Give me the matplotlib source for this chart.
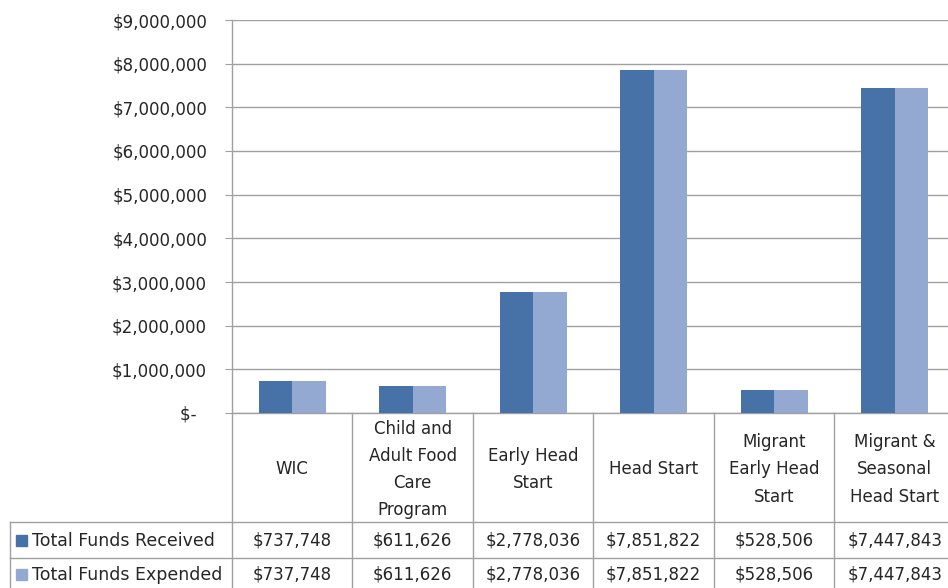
import matplotlib.pyplot as plt
import numpy as np
from matplotlib.ticker import FuncFormatter

plt.rcParams['font.family'] = ['DejaVu Sans']

categories = ["WIC", "Child and\nAdult Food\nCare\nProgram", "Early Head\nStart",
              "Head Start", "Migrant\nEarly Head\nStart", "Migrant &\nSeasonal\nHead Start"]
received = [737748, 611626, 2778036, 7851822, 528506, 7447843]
expended = [737748, 611626, 2778036, 7851822, 528506, 7447843]
series_names = ["Total Funds Received", "Total Funds Expended"]
colors = ["#4672a8", "#94a9d2"]

W, H = 948, 588
fig = plt.figure(figsize=(W / 100, H / 100), dpi=100)
fs = 12
tc = '#262626'

# plot area in pixel terms
left, top, bottom = 232, 20, 413
colw = 120.5
n = len(categories)
right = left + colw * n

ax = fig.add_axes([left / W, 1 - bottom / H, (right - left) / W, (bottom - top) / H])
x = np.arange(n)
bw = 0.28
ax.bar(x - bw / 2, received, bw, color=colors[0], zorder=3)
ax.bar(x + bw / 2, expended, bw, color=colors[1], zorder=3)
ax.set_xlim(-0.5, n - 0.5)
ax.set_ylim(0, 9000000)
ax.set_yticks(np.arange(0, 9000001, 1000000))
ax.yaxis.set_major_formatter(FuncFormatter(lambda v, p: "$-  " if v == 0 else f"${v:,.0f}"))
ax.grid(axis='y', color='#a0a0a0', linewidth=1, zorder=0)
ax.set_xticks([])
for s in ['top', 'right']:
    ax.spines[s].set_visible(False)
for s in ['left', 'bottom']:
    ax.spines[s].set_color('#a0a0a0')
    ax.spines[s].set_linewidth(1)
ax.tick_params(axis='y', length=5, color='#a0a0a0', pad=13, labelsize=fs, labelcolor=tc)

# data table drawn in pixel coordinates
tab = fig.add_axes([0, 0, 1, 1])
tab.set_xlim(0, W)
tab.set_ylim(H, 0)
tab.axis('off')
gc = '#a0a0a0'
r1, r2, r3 = 522, 558, 594
bounds = [left + colw * i for i in range(n + 1)]
for b in bounds:
    tab.plot([b, b], [bottom, r3], color=gc, lw=1)
tab.plot([10, 10], [r1, r3], color=gc, lw=1)
for yy in [r1, r2]:
    tab.plot([10, right], [yy, yy], color=gc, lw=1)

for i, cat in enumerate(categories):
    cx = (bounds[i] + bounds[i + 1]) / 2
    tab.text(cx, (bottom + r1) / 2 + 2, cat, ha='center', va='center', fontsize=fs,
             color=tc, linespacing=1.65)
    tab.text(cx, (r1 + r2) / 2 + 1, f"${received[i]:,}", ha='center', va='center',
             fontsize=fs, color=tc)
    tab.text(cx, (r2 + r3) / 2 - 2, f"${expended[i]:,}", ha='center', va='center',
             fontsize=fs, color=tc)

for j, (name, c) in enumerate(zip(series_names, colors)):
    yc = (r1 + r2) / 2 if j == 0 else (r2 + r3) / 2 - 2
    tab.add_patch(plt.Rectangle((16, yc - 5.5), 11, 11, color=c))
    tab.text(32, yc + 1, name, ha='left', va='center', fontsize=12.5, color=tc)

fig.savefig("out.png", dpi=100)
